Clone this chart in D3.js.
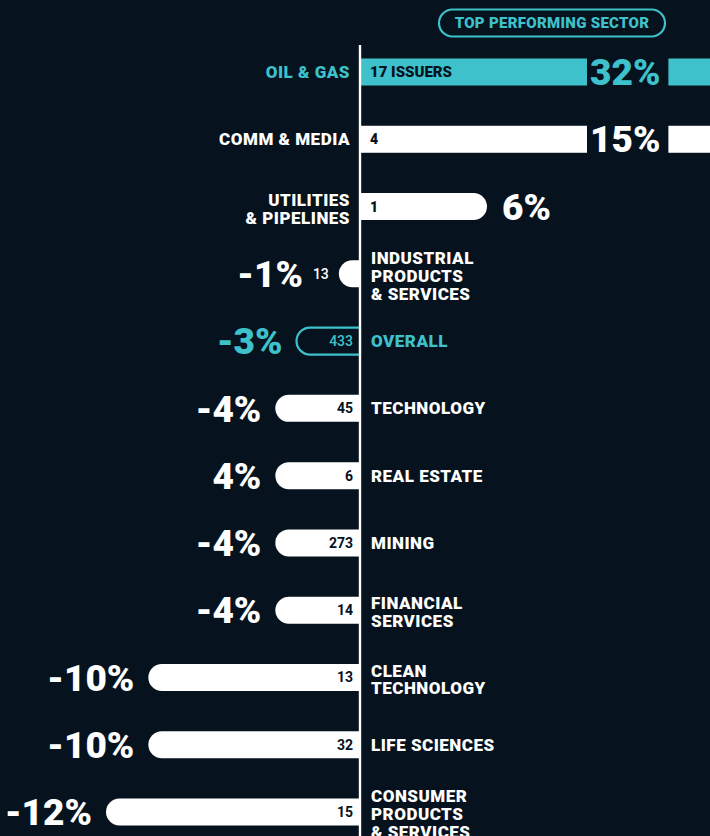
<!DOCTYPE html>
<html>
<head>
<meta charset="utf-8">
<script src="https://cdn.jsdelivr.net/npm/d3@7"></script>
<style>
  html, body { margin: 0; padding: 0; background: #06121d; }
  svg { display: block; font-family: Roboto, 'DejaVu Sans', sans-serif; font-weight: 900; }
</style>
</head>
<body>
<div id="chart"></div>
<script>
// Sector returns, one row per sector (top to bottom)

const sectors = [
  ['OIL & GAS'],
  ['COMM & MEDIA'],
  ['UTILITIES', '& PIPELINES'],
  ['INDUSTRIAL', 'PRODUCTS', '& SERVICES'],
  ['OVERALL'],
  ['TECHNOLOGY'],
  ['REAL ESTATE'],
  ['MINING'],
  ['FINANCIAL', 'SERVICES'],
  ['CLEAN', 'TECHNOLOGY'],
  ['LIFE SCIENCES'],
  ['CONSUMER', 'PRODUCTS', '& SERVICES'],
]
const returns = [32, 15, 6, -1, -3, -4, -4, -4, -4, -10, -10, -12]
const returnLabels = ['32%', '15%', '6%', '-1%', '-3%', '-4%', '4%', '-4%', '-4%', '-10%', '-10%', '-12%']
const issuers = [17, 4, 1, 13, 433, 45, 6, 273, 14, 13, 32, 15]

const TOP = 'OIL & GAS'
const OVERALL = 'OVERALL'

const COLORS = {
  bg: '#06121d',
  teal: '#3ec1cb',
  white: '#ffffff',
  dark: '#06121d',
}

const width = 710
const height = 836
const barH = 27
const BREAK_X = 587 // bars reaching past this are drawn broken, running off the edge
const BREAK_VALUE = 10

const rows = sectors.map((lines, i) => ({
  key: lines.join(' '),
  lines,
  value: returns[i],
  label: returnLabels[i],
  issuers: issuers[i],
}))

const x = d3.scaleLinear().domain([-12, 0]).range([106, 360])
const y = d3.scalePoint().domain(rows.map(d => d.key)).range([72, 812])

const svg = d3.select('#chart').append('svg')
  .attr('width', width)
  .attr('height', height)

svg.append('rect').attr('width', width).attr('height', height).attr('fill', COLORS.bg)

// Badge

const badge = svg.append('g')
badge.append('rect')
  .attr('x', 439).attr('y', 9.5)
  .attr('width', 226).attr('height', 27)
  .attr('rx', 13.5)
  .attr('fill', 'none')
  .attr('stroke', COLORS.teal)
  .attr('stroke-width', 2.2)
badge.append('text')
  .attr('x', 552).attr('y', 23).attr('dy', '0.355em')
  .attr('text-anchor', 'middle')
  .attr('fill', COLORS.teal)
  .attr('font-size', 15)
  .attr('letter-spacing', 0.3)
  .text('TOP PERFORMING SECTOR')

// Bars

function barPath(v, cy) {
  const x0 = x(0)
  const t = cy - barH / 2
  const b = cy + barH / 2
  const r = barH / 2
  const xe = x(v)
  if (v < 0) {
    return `M${x0},${t}H${xe + r}A${r},${r} 0 0 0 ${xe + r},${b}H${x0}Z`
  }
  return `M${x0},${t}H${xe - r}A${r},${r} 0 0 1 ${xe - r},${b}H${x0}Z`
}

const colorOf = d => (d.key === TOP || d.key === OVERALL ? COLORS.teal : COLORS.white)

const row = svg.append('g').selectAll('g')
  .data(rows)
  .join('g')
  .attr('transform', d => `translate(0,${y(d.key)})`)

row.each(function (d) {
  const g = d3.select(this)
  const x0 = x(0)
  const fill = colorOf(d)
  const broken = d.value > BREAK_VALUE

  // bar
  if (broken) {
    g.append('rect')
      .attr('x', x0).attr('y', -barH / 2)
      .attr('width', BREAK_X - x0).attr('height', barH)
      .attr('fill', fill)
  } else if (d.key === OVERALL) {
    g.append('path')
      .attr('d', barPath(d.value, 0))
      .attr('fill', 'none')
      .attr('stroke', COLORS.teal)
      .attr('stroke-width', 2.2)
  } else {
    g.append('path')
      .attr('d', barPath(d.value, 0))
      .attr('fill', fill)
  }

  // issuer count
  const small = Math.abs(x(d.value) - x0) < 30
  const count = g.append('text')
    .attr('dy', '0.355em')
    .attr('font-size', d.key === TOP ? 15 : 14)
    .text(d.key === TOP ? `${d.issuers} ISSUERS` : d.issuers)
  if (d.value >= 0) {
    count.attr('x', x0 + 10).attr('text-anchor', 'start').attr('fill', COLORS.dark)
  } else if (small) {
    count.attr('x', x(d.value) - 10).attr('text-anchor', 'end').attr('fill', COLORS.white)
      .attr('font-weight', 500)
  } else {
    count.attr('x', x0 - 7).attr('text-anchor', 'end')
      .attr('fill', d.key === OVERALL ? COLORS.teal : COLORS.dark)
      .attr('font-weight', d.key === OVERALL ? 500 : 700)
  }

  // return label
  const val = g.append('text')
    .attr('dy', '0.355em')
    .attr('font-size', 37)
    .attr('fill', fill)
    .text(d.label)
  if (broken) {
    val.attr('x', BREAK_X + 3).attr('text-anchor', 'start')
    const w = val.node().getComputedTextLength()
    g.append('rect')
      .attr('x', BREAK_X + 3 + w + 8).attr('y', -barH / 2)
      .attr('width', width).attr('height', barH)
      .attr('fill', fill)
  } else if (d.value >= 0) {
    val.attr('x', x(d.value) + 15).attr('text-anchor', 'start')
  } else {
    const right = small ? count.node().getBBox().x - 10 : x(d.value) - 14
    val.attr('x', right).attr('text-anchor', 'end')
  }

  // sector name
  const lh = 18
  const n = d.lines.length
  const name = g.append('text')
    .attr('font-size', 17)
    .attr('letter-spacing', 0.5)
    .attr('fill', fill)
    .attr('text-anchor', d.value >= 0 ? 'end' : 'start')
  name.selectAll('tspan')
    .data(d.lines)
    .join('tspan')
    .attr('x', d.value >= 0 ? x0 - 10 : x0 + 11)
    .attr('y', (l, i) => (i - (n - 1) / 2) * lh + (n > 1 ? 2 : 0))
    .attr('dy', '0.355em')
    .text(l => l)
})

// Zero line

svg.append('line')
  .attr('x1', x(0)).attr('x2', x(0))
  .attr('y1', 45).attr('y2', height)
  .attr('stroke', COLORS.white)
  .attr('stroke-width', 2.4)
</script>
</body>
</html>
